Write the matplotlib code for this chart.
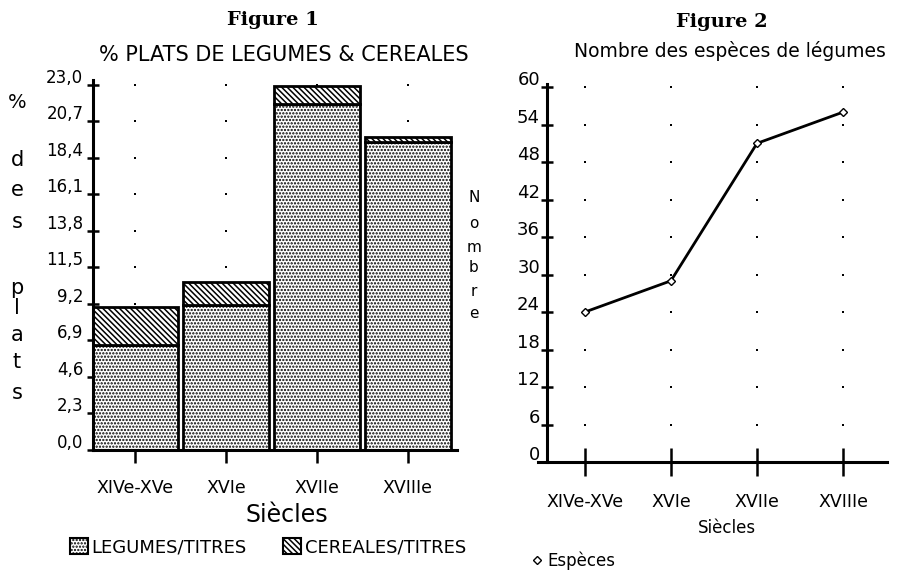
import matplotlib
matplotlib.use("Agg")
import matplotlib.pyplot as plt
import matplotlib.transforms as mtransforms
from matplotlib.patches import Patch
from matplotlib.lines import Line2D
import numpy as np

# data
siecles = ['XIVe-XVe', 'XVIe', 'XVIIe', 'XVIIIe']
legumes = [6.6, 9.1, 21.8, 19.4]
cereales = [2.4, 1.5, 1.1, 0.3]
ticks_pct = [0.0, 2.3, 4.6, 6.9, 9.2, 11.5, 13.8, 16.1, 18.4, 20.7, 23.0]

especes = [24, 29, 51, 56]
ticks_nb = [0, 6, 12, 18, 24, 30, 36, 42, 48, 54, 60]

plt.rcParams['font.family'] = ['DejaVu Sans']
plt.rcParams['hatch.linewidth'] = 1.1

W, H = 898, 571
fig = plt.figure(figsize=(W / 100, H / 100), dpi=100)


def fx(px):
    return px / W


def fy(py):
    return 1 - py / H


up = mtransforms.ScaledTranslation(0, 0.09, fig.dpi_scale_trans)
dots = '.....'
stripes = '\\\\\\\\\\\\'

# ---------------- Figure 1 ----------------
ax1 = fig.add_axes([0.1036, 0.2119, 0.4053, 0.648])
x = np.arange(len(siecles))

gx, gy = np.meshgrid(x, ticks_pct[1:])
ax1.scatter(gx.ravel(), gy.ravel(), s=2, marker='s', color='black', lw=0, zorder=1)

ax1.bar(x, legumes, 0.95, color='white', edgecolor='black', hatch=dots,
        linewidth=2, zorder=2)
ax1.bar(x, cereales, 0.95, bottom=legumes, color='white', edgecolor='black',
        hatch=stripes, linewidth=2, zorder=2)

ax1.set_xlim(-0.46, 3.54)
ax1.set_ylim(0, 23.3)
ax1.set_yticks(ticks_pct)
ax1.set_yticklabels([f"{t:.1f}".replace('.', ',') for t in ticks_pct])
ax1.set_xticks(x)
ax1.set_xticklabels(siecles)
for s in ['top', 'right']:
    ax1.spines[s].set_visible(False)
for s in ['left', 'bottom']:
    ax1.spines[s].set_linewidth(2.2)
ax1.tick_params(axis='y', direction='inout', length=8, width=1.8, labelsize=12, pad=3)
ax1.tick_params(axis='x', direction='inout', length=18, width=1.8, labelsize=12.5, pad=12)
for lab in ax1.get_yticklabels():
    lab.set_transform(lab.get_transform() + up)

fig.text(fx(273), fy(20), 'Figure 1', family='DejaVu Serif', weight='bold',
         fontsize=14, ha='center', va='center')
fig.text(fx(284), fy(55), '% PLATS DE LEGUMES & CEREALES', fontsize=15,
         ha='center', va='center')
fig.text(fx(287), fy(515), 'Siècles', fontsize=17, ha='center', va='center')

ylab_letters = ['%', 'd', 'e', 's', 'p', 'l', 'a', 't', 's']
ylab_pos = [102, 160, 190, 222, 288, 308, 335, 362, 393]
for ch, py in zip(ylab_letters, ylab_pos):
    fig.text(fx(17), fy(py), ch, fontsize=15 if ch != '%' else 14,
             ha='center', va='center')

nb_letters = ['N', 'o', 'm', 'b', 'r', 'e']
nb_pos = [198, 223, 247, 268, 292, 313]
for ch, py in zip(nb_letters, nb_pos):
    fig.text(fx(474), fy(py), ch, fontsize=11, ha='center', va='center')

leg1 = [Patch(facecolor='white', edgecolor='black', hatch=dots, lw=1.5),
        Patch(facecolor='white', edgecolor='black', hatch=stripes, lw=1.5)]
fig.legend(leg1, ['LEGUMES/TITRES', 'CEREALES/TITRES'], loc='center',
           bbox_to_anchor=(fx(268), fy(547)), ncol=2, frameon=False,
           fontsize=13, handlelength=1.0, handleheight=1.0,
           handletextpad=0.2, columnspacing=2.0, borderpad=0)

# ---------------- Figure 2 ----------------
ax2 = fig.add_axes([0.6091, 0.1909, 0.3786, 0.662])
gx2, gy2 = np.meshgrid(x, ticks_nb[1:])
ax2.scatter(gx2.ravel(), gy2.ravel(), s=2, marker='s', color='black', lw=0, zorder=1)
ax2.plot(x, especes, color='black', lw=2, marker='D', markersize=4,
         mfc='white', mec='black', mew=1, zorder=3)

ax2.set_xlim(-0.44, 3.51)
ax2.set_ylim(0, 60.5)
ax2.set_yticks(ticks_nb)
ax2.set_xticks(x)
ax2.set_xticklabels(siecles)
for s in ['top', 'right']:
    ax2.spines[s].set_visible(False)
for s in ['left', 'bottom']:
    ax2.spines[s].set_linewidth(2.2)
ax2.spines['bottom'].set_bounds(-0.54, 3.51)
ax2.tick_params(axis='y', direction='inout', length=8, width=1.8, labelsize=13, pad=1)
ax2.tick_params(axis='x', direction='inout', length=20, width=1.8, labelsize=12.5, pad=12)
for lab in ax2.get_yticklabels():
    lab.set_transform(lab.get_transform() + up)

fig.text(fx(722), fy(22), 'Figure 2', family='DejaVu Serif', weight='bold',
         fontsize=14, ha='center', va='center')
fig.text(fx(730), fy(51), 'Nombre des espèces de légumes', fontsize=13.5,
         ha='center', va='center')
fig.text(fx(727), fy(528), 'Siècles', fontsize=12, ha='center', va='center')

leg2 = [Line2D([], [], marker='D', markersize=4, mfc='white', mec='black',
               linestyle='none')]
fig.legend(leg2, ['Espèces'], loc='center left',
           bbox_to_anchor=(fx(532), fy(561)), frameon=False, fontsize=12,
           handlelength=0.6, handletextpad=0.3, borderpad=0, borderaxespad=0)

fig.savefig('out.png', dpi=100)
